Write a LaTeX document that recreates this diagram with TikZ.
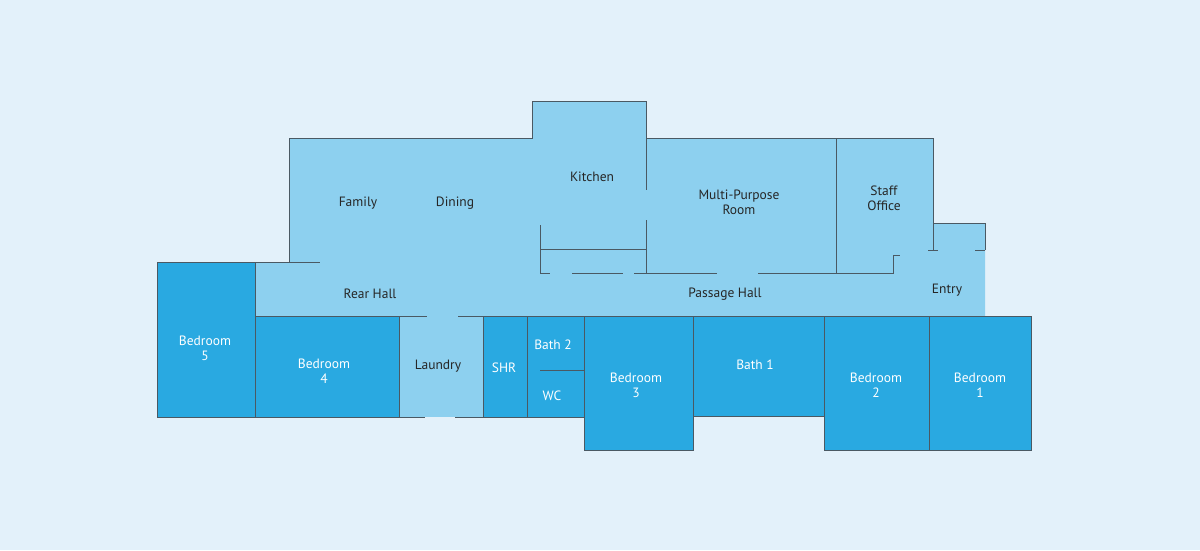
\documentclass[tikz,border=0pt]{standalone}
\usepackage{fontspec}
\setmainfont{PT Sans}
\definecolor{bgblue}{HTML}{E3F1FA}
\definecolor{hallblue}{HTML}{8DD0EF}
\definecolor{roomblue}{HTML}{29A9E1}
\definecolor{wallgray}{HTML}{4A5963}
\tikzset{
  wall/.style={draw=wallgray,line width=0.9pt},
  room/.style={fill=roomblue,wall},
  hall/.style={fill=hallblue},
  darklabel/.style={text=black!85,font=\fontsize{13.5}{15}\selectfont,align=center},
  lightlabel/.style={text=white,font=\fontsize{13.5}{15}\selectfont,align=center}
}
\begin{document}
\begin{tikzpicture}[x=1pt,y=-1pt]
    \fill[bgblue] (0,0) rectangle (1200,550);
    \useasboundingbox (0,0) rectangle (1200,550);

    % common area
    \fill[hall] (255,262) -- (289,262) -- (289,138) -- (532,138) -- (532,101) -- (646,101)
        -- (646,138) -- (933,138) -- (933,223) -- (985,223) -- (985,316) -- (255,316) -- cycle;
    \fill[hall] (399,316) rectangle (483,417);
    \draw[wall] (289,262) -- (289,138) -- (532,138) -- (532,101) -- (646,101) -- (646,138)
        -- (933,138) -- (933,250);
    \draw[wall] (933,223) -- (985,223) -- (985,250);
    \draw[wall] (255,262) -- (320,262);

    % kitchen and rooms above the hall
    \draw[wall] (540,225) -- (540,273);
    \draw[wall] (540,249) -- (646,249);
    \draw[wall] (540,273) -- (550,273) (572,273) -- (623,273) (634,273) -- (646,273);
    \draw[wall] (646,138) -- (646,190) (646,220) -- (646,273) -- (717,273);
    \draw[wall] (758,273) -- (893,273) -- (893,255) -- (900,255);
    \draw[wall] (836,138) -- (836,273);
    \draw[wall] (928,250) -- (938,250) (975,250) -- (985,250);

    % rooms below the hall
    \draw[room] (157,262) rectangle (255,417);
    \draw[room] (255,316) rectangle (399,417);
    \draw[wall] (399,316) -- (399,417) (483,316) -- (483,417);
    \draw[wall] (399,417) -- (425,417) (455,417) -- (483,417);
    \draw[wall] (399,316) -- (427,316) (458,316) -- (483,316);
    \draw[room] (483,316) rectangle (527,417);
    \draw[room] (527,316) rectangle (584,417);
    \draw[wall] (540,370) -- (584,370);
    \draw[room] (584,316) rectangle (693,450);
    \draw[room] (693,316) rectangle (824,416);
    \draw[room] (824,316) rectangle (929,450);
    \draw[room] (929,316) rectangle (1031,450);

    % labels
    \node[darklabel] (family) at (358,203) {Family};
    \node[darklabel] (dining) at (455,203) {Dining};
    \node[darklabel] (kitchen) at (592,177) {Kitchen};
    \node[darklabel] (mpr) at (739,202) {Multi-Purpose\\Room};
    \node[darklabel] (office) at (884,198) {Staff\\Office};
    \node[darklabel] (rearhall) at (370,294) {Rear Hall};
    \node[darklabel] (passage) at (725,294) {Passage Hall};
    \node[darklabel] (entry) at (947,290) {Entry};
    \node[darklabel] (laundry) at (438,366) {Laundry};
    \node[lightlabel] (bed5) at (205,348) {Bedroom\\5};
    \node[lightlabel] (bed4) at (324,371) {Bedroom\\4};
    \node[lightlabel] (shr) at (504,368) {SHR};
    \node[lightlabel] (bath2) at (553,345) {Bath 2};
    \node[lightlabel] (wc) at (552,396) {WC};
    \node[lightlabel] (bed3) at (636,385) {Bedroom\\3};
    \node[lightlabel] (bath1) at (755,365) {Bath 1};
    \node[lightlabel] (bed2) at (876,385) {Bedroom\\2};
    \node[lightlabel] (bed1) at (980,385) {Bedroom\\1};
\end{tikzpicture}
\end{document}
